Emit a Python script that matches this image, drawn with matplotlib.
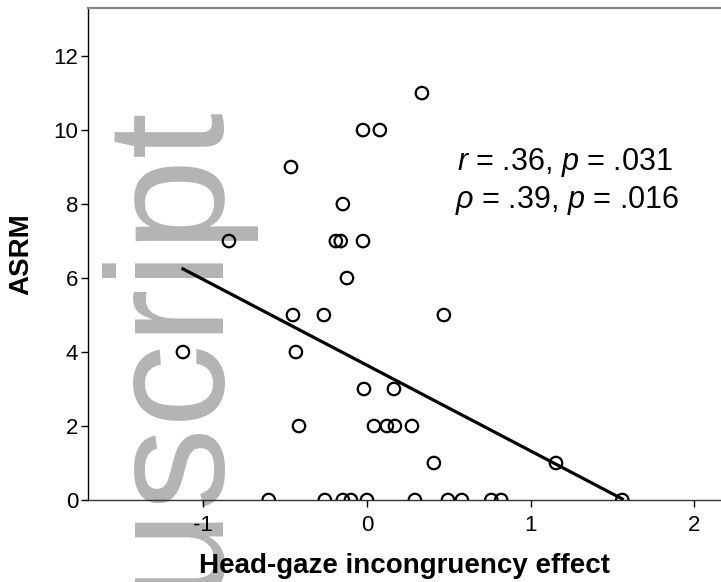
import numpy as np
import matplotlib
matplotlib.use("Agg")
import matplotlib.pyplot as plt

# ---- data ----
effect = [0.336,
          -0.024, 0.079,
          -0.464,
          -0.147,
          -0.843, -0.19, -0.16, -0.024,
          -0.122,
          -0.452, -0.263, 0.47,
          -1.124, -0.434,
          -0.018, 0.165,
          -0.415, 0.043, 0.122, 0.171, 0.275,
          0.409, 1.155,
          -0.600, -0.257, -0.147, -0.098, 0.0, 0.293, 0.495, 0.58, 0.76, 0.82, 1.56]
asrm = [11,
        10, 10,
        9,
        8,
        7, 7, 7, 7,
        6,
        5, 5, 5,
        4, 4,
        3, 3,
        2, 2, 2, 2, 2,
        1, 1,
        0, 0, 0, 0, 0, 0, 0, 0, 0, 0, 0]
x_ticks = [-1, 0, 1, 2]
y_ticks = [0, 2, 4, 6, 8, 10, 12]
x_label = "Head-gaze incongruency effect"
y_label = "ASRM"
stat_line1 = r"$r$ = .36, $p$ = .031"
stat_line2 = r"$\rho$ = .39, $p$ = .016"
watermark = "Manuscript"

plt.rcParams['font.family'] = ['Liberation Sans', 'DejaVu Sans']
plt.rcParams['mathtext.fontset'] = 'custom'
plt.rcParams['mathtext.rm'] = 'Liberation Sans'
plt.rcParams['mathtext.it'] = 'Liberation Sans:italic'
plt.rcParams['mathtext.bf'] = 'Liberation Sans:bold'
plt.rcParams['axes.unicode_minus'] = False

W, H = 721, 582
fig = plt.figure(figsize=(W / 100, H / 100), dpi=100)

left_px, right_px, top_px, bottom_px = 88, 721, 8, 500
ax = fig.add_axes([left_px / W, 1 - bottom_px / H, (right_px - left_px) / W, (bottom_px - top_px) / H])
ax.set_zorder(1)
ax.patch.set_alpha(0)

# watermark beneath
fig.text(210 / W, 1 - 98 / H, watermark, rotation=90, rotation_mode='anchor',
         ha='right', va='baseline', fontsize=120, color='#b4b4b4',
         family='Liberation Sans', zorder=0)

ax.scatter(effect, asrm, s=80, facecolors='none', edgecolors='black',
           linewidths=1.6, zorder=3, clip_on=True)

xa = np.array(effect)
ya = np.array(asrm)
slope, intercept = np.polyfit(xa, ya, 1)
xl = np.array([xa.min(), xa.max()])
ax.plot(xl, intercept + slope * xl, color='black', lw=2.3, zorder=4)

ax.set_xlim(-1.704, 2.163)
ax.set_ylim(0, 13.3)
ax.set_xticks(x_ticks)
ax.set_yticks(y_ticks)
ax.tick_params(axis='both', direction='out', length=5, width=1, labelsize=16, colors='black')
ax.tick_params(axis='x', pad=6)
ax.tick_params(axis='y', pad=2)

ax.spines['right'].set_visible(False)
ax.spines['top'].set_color('#8a8a8a')
ax.spines['top'].set_linewidth(1.6)
ax.spines['left'].set_linewidth(1.0)
ax.spines['bottom'].set_linewidth(1.0)
ax.spines['bottom'].set_color('#333333')

ax.set_xlabel(x_label, fontsize=20, fontweight='bold', labelpad=12)
ax.set_ylabel(y_label, fontsize=20, fontweight='bold', labelpad=14)

fig.text(457 / W, 1 - 170 / H, stat_line1, fontsize=22, va='baseline', ha='left', zorder=5)
fig.text(455 / W, 1 - 208 / H, stat_line2, fontsize=22, va='baseline', ha='left', zorder=5)

fig.savefig("out.png", dpi=100)
